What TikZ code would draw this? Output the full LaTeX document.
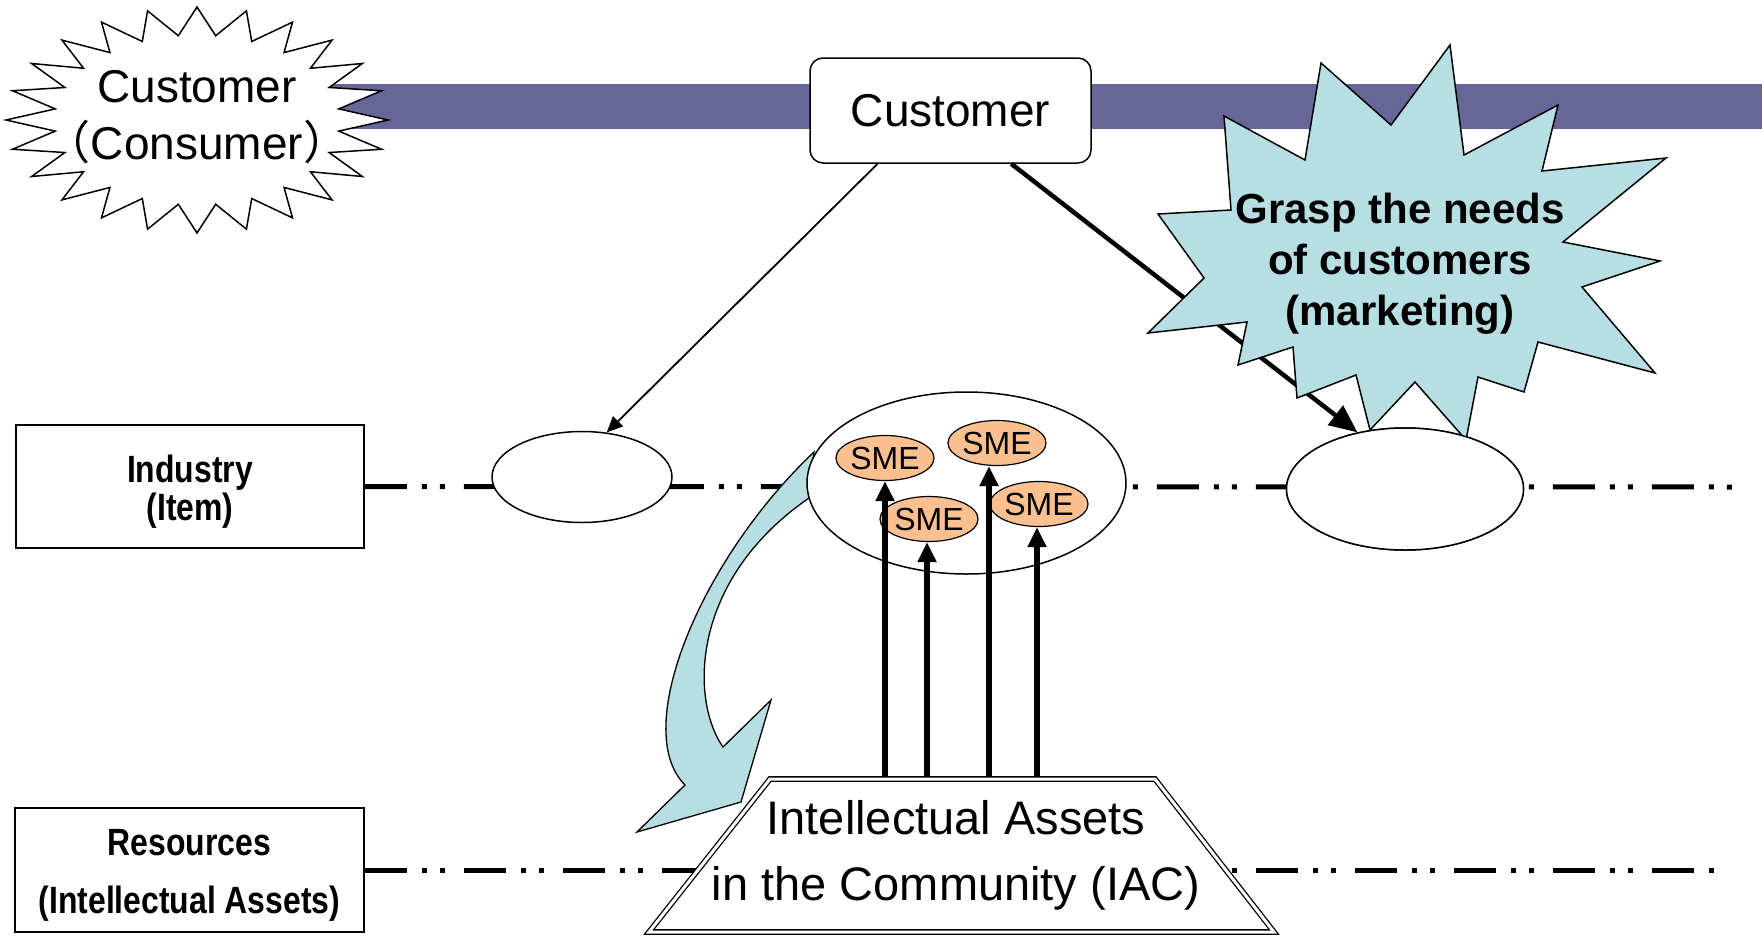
\documentclass[tikz,border=0pt]{standalone}
\usepackage{fontspec}
\setmainfont{Liberation Sans}
\newfontfamily\narrowb[FakeStretch=0.84]{Liberation Sans}
\newfontfamily\cjk{Noto Sans CJK JP}
\usetikzlibrary{arrows.meta,shapes.geometric,calc}
\definecolor{bandc}{HTML}{666699}
\definecolor{ltblue}{HTML}{B7DFE3}
\definecolor{smeorange}{HTML}{FAC090}
\tikzset{
  thinline/.style={line width=1.5pt},
  ellnode/.style={ellipse, draw, line width=1.5pt, fill=white, inner sep=0pt},
  smenode/.style={ellipse, draw, line width=1.2pt, fill=smeorange, minimum width=86pt, minimum height=45pt, inner sep=0pt, font={\fontsize{32}{32}\selectfont}},
  lblbox/.style={rectangle, draw, line width=1.5pt, fill=white, inner sep=0pt},
  lbltext/.style={align=center, inner sep=0pt},
  dashline/.style={line width=5pt, dash pattern=on 42pt off 15pt on 5pt off 13pt on 5pt off 19pt},
  thinarrow/.style={line width=1.8pt, -{Triangle[length=16pt,width=14pt]}},
  thickarrow/.style={line width=4.5pt, -{Triangle[length=28pt,width=24pt]}},
  vertarrow/.style={line width=6pt, -{Triangle[length=20pt,width=18pt]}},
  bigtext/.style={font={\fontsize{46}{57}\selectfont}, align=center, inner sep=0pt},
}
\begin{document}
\begin{tikzpicture}[x=1pt,y=-1pt]
\useasboundingbox (0,0) rectangle (1762,937);
% purple band
\fill[bandc] (300,84) rectangle (1762,129);

% label boxes
\node[lblbox, minimum width=348pt, minimum height=123pt] (ind) at (190,486.5) {};
\node[lbltext, font={\narrowb\bfseries\fontsize{38}{38}\selectfont}] (indtxt) at ($(ind.center)+(0,5)$)
  {Industry\\(Item)};
\node[lblbox, minimum width=349pt, minimum height=124pt] (res) at (189.5,870) {};
\node[lbltext, font={\narrowb\bfseries\fontsize{38}{58}\selectfont}] (restxt) at ($(res.center)+(0,5)$)
  {Resources\\(Intellectual Assets)};

% dash-dot-dot lines
\coordinate (indend) at (1736,487);
\coordinate (resend) at (1722,870);
\draw[dashline] (ind.east) -- (indend);
\draw[dashline] (res.east) -- (resend);

% curved block arrow
\draw[fill=ltblue, line width=1.3pt, line join=miter]
  (814,452) .. controls (700,560) and (630,730) .. (685,785)
  -- (637,832) -- (741,802) -- (771,700) -- (723,747)
  .. controls (690,700) and (690,580) .. (809,498) -- cycle;

% customer starburst (left)
\draw[fill=white, thinline, shift={(197,120)}] (90:191 and 113)
  \foreach \i in {1,...,47} { -- ({90+\i*7.5}:{191-48*mod(\i,2)} and {113-28*mod(\i,2)}) } -- cycle;
\node[bigtext] (cons) at (197,117) {Customer\\{\cjk （}Consumer{\cjk ）}};

% customer box
\node[draw, rounded corners=13pt, line width=1.5pt, fill=white, minimum width=281pt, minimum height=105pt, inner sep=0pt, font={\fontsize{46}{46}\selectfont}] (cust) at (950.5,110.5) {Customer};

% ellipses
\node[ellnode, minimum width=180pt, minimum height=91pt] (lel) at (582,477) {};
\node[ellnode, minimum width=237pt, minimum height=122pt] (rel) at (1405,489) {};

% arrows from customer
\coordinate (c1) at ($(cust.south west)!0.242!(cust.south east)$);
\coordinate (c2) at ($(cust.south west)!0.715!(cust.south east)$);
\draw[thinarrow] (c1) -- (lel.61);
\draw[thickarrow] (c2) -- (rel.130);

% grasp starburst
\draw[fill=ltblue, thinline, line join=miter]
  (1450,45) -- (1464,155) -- (1558,105) -- (1542,171) -- (1666,158) -- (1563,242)
  -- (1660,261) -- (1582,287) -- (1655,373) -- (1538,342) -- (1524,392) -- (1478,377)
  -- (1466,440) -- (1415,382) -- (1370,430) -- (1356,375) -- (1297,398) -- (1293,347)
  -- (1238,365) -- (1247,322) -- (1148,333) -- (1204,278) -- (1158,214) -- (1231,210)
  -- (1224,116) -- (1305,160) -- (1321,63) -- (1391,125) -- cycle;
\node[font={\bfseries\fontsize{42}{51}\selectfont}, align=center, inner sep=0pt] (grasp) at (1400,264)
  {Grasp the needs\\of customers\\(marketing)};
% redraw right ellipse outline over the starburst
\node[ellnode, minimum width=237pt, minimum height=122pt] at (rel) {};

% middle ellipse with SMEs
\node[ellnode, minimum width=319pt, minimum height=182pt] (mel) at (966.5,483) {};
\node[smenode] (sme1) at (885,458) {SME};
\node[smenode] (sme2) at (997,443) {SME};
\node[smenode] (sme3) at (929,519) {SME};
\node[smenode] (sme4) at (1039,504) {SME};

% vertical arrows
\coordinate (t1) at (885,779);
\coordinate (t2) at (927,779);
\coordinate (t3) at (989,779);
\coordinate (t4) at (1037,779);
\draw[vertarrow] (t1) -- (sme1.south);
\draw[vertarrow] (t2) -- (sme3.south -| t2);
\draw[vertarrow] (t3) -- (sme2.south -| t3);
\draw[vertarrow] (t4) -- (sme4.south -| t4);

% trapezoid IAC
\draw[double, line width=1.3pt, double distance=3pt, fill=white, line join=miter]
  (770,779) -- (1155,779) -- (1274,932) -- (649,932) -- cycle;
\node[font={\fontsize{47}{66}\selectfont}, align=center, inner sep=0pt] (iac) at (956,855)
  {Intellectual Assets\\in the Community (IAC)};
\end{tikzpicture}
\end{document}
